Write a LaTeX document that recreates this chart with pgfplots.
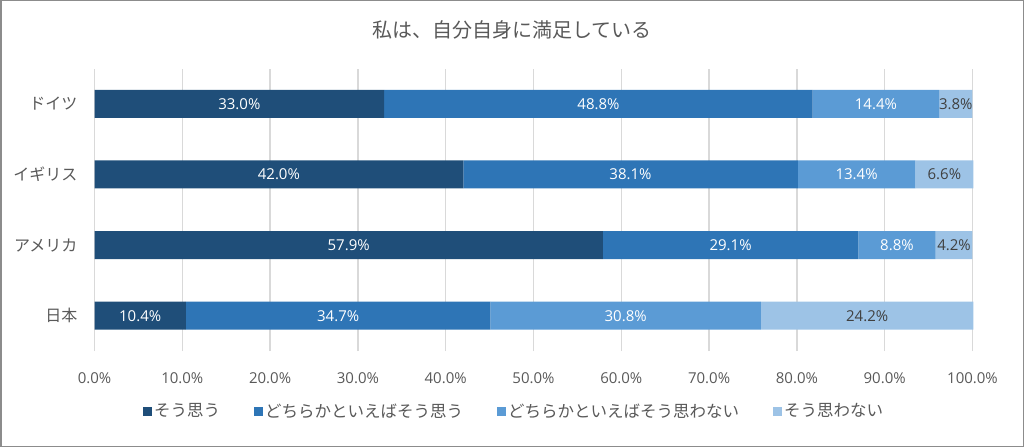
\documentclass[border=0pt]{standalone}
\usepackage{fontspec}
\setmainfont{Noto Sans CJK JP}
\newfontfamily\numfont{Open Sans}
\usepackage{pgfplots}
\pgfplotsset{compat=1.18}
\definecolor{c1}{HTML}{1F4E79}
\definecolor{c2}{HTML}{2E75B6}
\definecolor{c3}{HTML}{5B9BD5}
\definecolor{c4}{HTML}{9DC3E6}
\definecolor{txt}{HTML}{595959}
\definecolor{gridc}{HTML}{D9D9D9}
\definecolor{frame}{HTML}{8C8C8C}
\begin{document}
\begin{tikzpicture}
\useasboundingbox (0,0) rectangle (1024pt,447pt);
\draw[color=frame, line width=1.5pt] (0.75pt,0.75pt) rectangle (1023.25pt,446.25pt);
\node[font=\fontsize{20}{24}\selectfont, text=txt] at (512pt,417pt) {私は、自分自身に満足している};
\begin{axis}[
  at={(94.5pt,96pt)}, anchor=south west,
  scale only axis, width=879.3pt, height=282.5pt,
  /pgf/number format/assume math mode=true,
  xbar stacked, bar width=28pt,
  xmin=0, xmax=100.15, ymin=-0.5, ymax=3.5,
  ytick={0,1,2,3}, yticklabels={日本,アメリカ,イギリス,ドイツ},
  xtick={0,10,...,100},
  xticklabel={\numfont\pgfmathprintnumber[fixed,fixed zerofill,precision=1]{\tick}\%},
  xticklabel style={anchor=center, yshift=-27pt, font=\fontsize{15}{18}\selectfont, text=txt},
  yticklabel style={anchor=east, inner xsep=0pt, xshift=-17pt, font=\fontsize{16}{19}\selectfont, text=txt},
  axis line style={draw=none},
  major tick length=0pt,
  xmajorgrids, ymajorgrids=false,
  grid style={gridc, line width=1.5pt},
  point meta=rawx,
  nodes near coords={\numfont\pgfmathprintnumber[fixed,fixed zerofill,precision=1]{\pgfplotspointmeta}\%},
  nodes near coords style={anchor=center, font=\fontsize{15}{18}\selectfont},
  legend style={at={(0.5,0)}, anchor=center, yshift=-60pt, xshift=-20pt, draw=none, fill=none, legend columns=4, font=\fontsize{16.5}{19}\selectfont, text=txt, nodes={inner xsep=2pt}, /tikz/every even column/.append style={column sep=32pt}},
  legend image code/.code={\fill[#1] (0pt,-4.5pt) rectangle (9pt,4.5pt);},
]
\addplot[fill=c1, draw=none, every node near coord/.append style={text=white}] coordinates {(10.4,0) (57.9,1) (42.0,2) (33.0,3)};
\addplot[fill=c2, draw=none, every node near coord/.append style={text=white}] coordinates {(34.7,0) (29.1,1) (38.1,2) (48.8,3)};
\addplot[fill=c3, draw=none, every node near coord/.append style={text=white}] coordinates {(30.8,0) (8.8,1) (13.4,2) (14.4,3)};
\addplot[fill=c4, draw=none, every node near coord/.append style={text={black!75}}] coordinates {(24.2,0) (4.2,1) (6.6,2) (3.8,3)};
\legend{そう思う,どちらかといえばそう思う,どちらかといえばそう思わない,そう思わない}
\end{axis}
\end{tikzpicture}
\end{document}
